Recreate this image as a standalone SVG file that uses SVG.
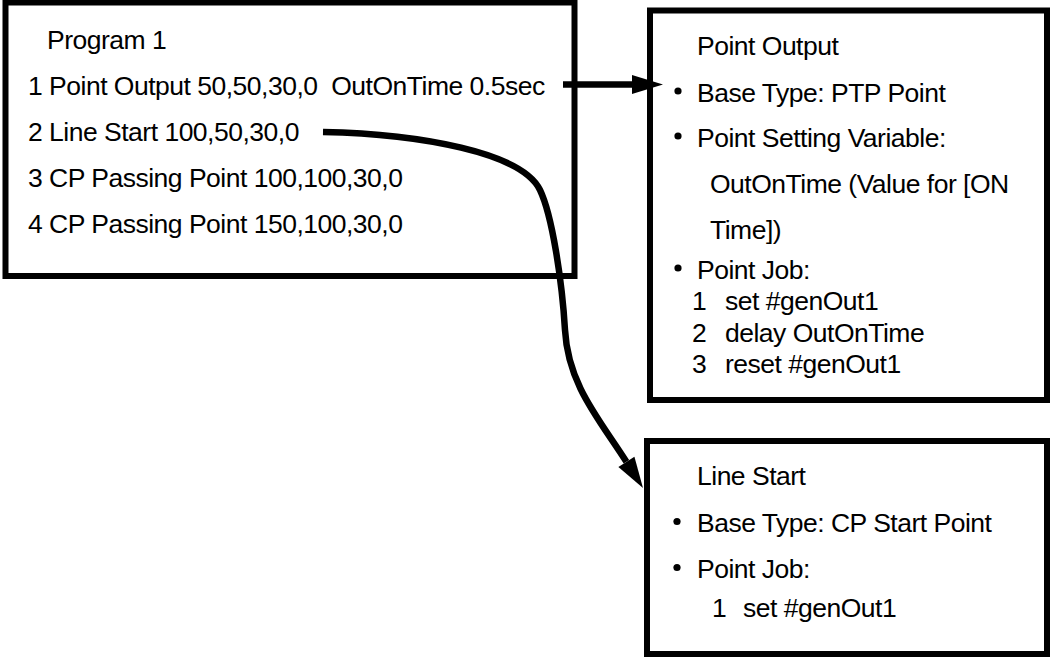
<svg xmlns="http://www.w3.org/2000/svg" width="1050" height="659" viewBox="0 0 1050 659">
  <style>
    .box { fill: #ffffff; stroke: #000000; stroke-width: 6; }
    .t { font-family: "Liberation Sans", Arial, sans-serif; font-size: 26.5px; letter-spacing: -0.5px; fill: #000000; white-space: pre; }
    .conn { fill: none; stroke: #000000; stroke-width: 6.5; }
    .bullet { fill: #000000; }
  </style>
  <defs>
    <marker id="arrow" markerUnits="userSpaceOnUse" markerWidth="32" markerHeight="20" refX="0" refY="9.5" orient="auto" overflow="visible">
      <path d="M0,0 L31,9.5 L0,19 Z" fill="#000000"/>
    </marker>
  </defs>
  <rect x="0" y="0" width="1050" height="659" fill="#ffffff"/>

  <g id="program1">
    <rect class="box" x="5.5" y="2.5" width="569" height="273.5"/>
    <text class="t" x="47" y="49">Program 1</text>
    <text class="t" x="28" y="95">1 Point Output 50,50,30,0  OutOnTime 0.5sec</text>
    <text class="t" x="28" y="141">2 Line Start 100,50,30,0</text>
    <text class="t" x="28" y="187">3 CP Passing Point 100,100,30,0</text>
    <text class="t" x="28" y="233">4 CP Passing Point 150,100,30,0</text>
  </g>

  <g id="point-output">
    <rect class="box" x="650" y="10.5" width="397" height="389.5"/>
    <text class="t" x="697" y="55">Point Output</text>
    <circle class="bullet" cx="678" cy="91" r="3.6"/>
    <text class="t" x="697" y="101.5">Base Type: PTP Point</text>
    <circle class="bullet" cx="678" cy="136" r="3.6"/>
    <text class="t" x="697" y="146.5">Point Setting Variable:</text>
    <text class="t" x="710" y="192.5">OutOnTime (Value for [ON</text>
    <text class="t" x="710" y="238.5">Time])</text>
    <circle class="bullet" cx="678" cy="268" r="3.6"/>
    <text class="t" x="697" y="278.5">Point Job:</text>
    <text class="t" x="692" y="310">1</text>
    <text class="t" x="725" y="310">set #genOut1</text>
    <text class="t" x="692" y="341.5">2</text>
    <text class="t" x="725" y="341.5">delay OutOnTime</text>
    <text class="t" x="692" y="373">3</text>
    <text class="t" x="725" y="373">reset #genOut1</text>
  </g>

  <g id="line-start">
    <rect class="box" x="647" y="441" width="400" height="213"/>
    <text class="t" x="697" y="485">Line Start</text>
    <circle class="bullet" cx="677" cy="521.5" r="3.6"/>
    <text class="t" x="697" y="532">Base Type: CP Start Point</text>
    <circle class="bullet" cx="677" cy="567.5" r="3.6"/>
    <text class="t" x="697" y="578">Point Job:</text>
    <text class="t" x="712" y="617">1</text>
    <text class="t" x="743" y="617">set #genOut1</text>
  </g>

  <g id="connectors">
    <path class="conn" d="M563,84.5 H632" marker-end="url(#arrow)"/>
    <path class="conn" d="M323,132 C420,134 522,152.5 540,190 C552,215 562,280 565,330 C568,385 599.6,419.5 626.4,461.8" marker-end="url(#arrow)"/>
  </g>
</svg>
